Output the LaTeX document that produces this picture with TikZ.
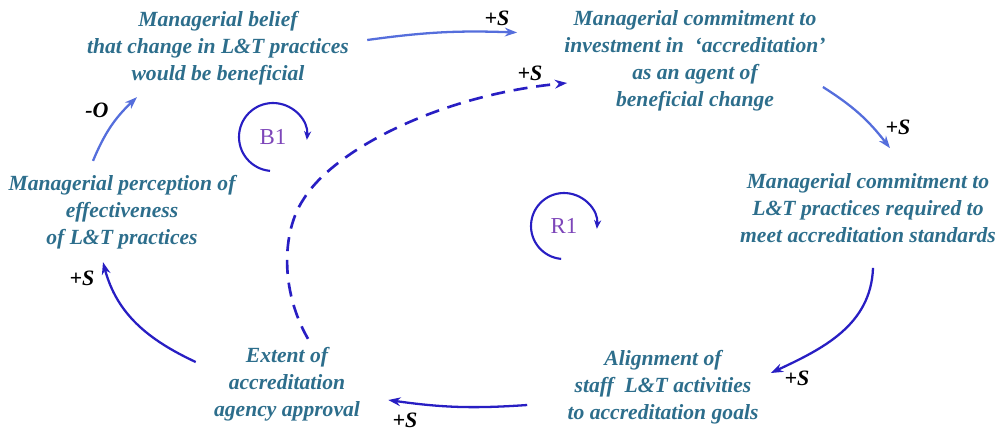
\documentclass[tikz,border=0pt]{standalone}
\usepackage{fontspec}
\setmainfont{Liberation Serif}
\usetikzlibrary{arrows.meta}
\definecolor{vartext}{RGB}{45,110,140}
\definecolor{linkdark}{RGB}{40,30,195}
\definecolor{linklight}{RGB}{85,110,220}
\definecolor{looptext}{RGB}{125,70,185}

\begin{document}
\begin{tikzpicture}[x=0.02cm, y=0.02cm,
  v/.style={align=center, inner sep=0pt, text=vartext,
    font=\fontsize{12.3}{15.3}\selectfont\bfseries\itshape},
  lk/.style={draw=linkdark, line width=1.3pt, -{Stealth[length=7pt,width=5pt]}},
  lkl/.style={lk, draw=linklight},
  pol/.style={inner sep=0pt, font=\fontsize{12.5}{14}\selectfont\bfseries\itshape},
  lp/.style={draw=linkdark, line width=1.2pt, -{Stealth[length=5pt,width=4pt]}},
  ll/.style={inner sep=0pt, text=looptext, font=\fontsize{13}{15}\selectfont}]
\useasboundingbox (0,0) rectangle (999,-430);
% variables
\node[v] (belief) at (218,-48) {Managerial belief\\that change in L\&T practices\\would be beneficial};
\node[v] (invest) at (695,-61) {Managerial commitment to\\investment in \ `accreditation'\\as an agent of\\beneficial change};
\node[v] (practice) at (868,-208) {Managerial commitment to\\L\&T practices required to\\meet accreditation standards};
\node[v] (align) at (663,-387) {Alignment of\\staff \ L\&T activities\\to accreditation goals};
\node[v] (approval) at (287,-384) {Extent of\\accreditation\\agency approval};
\node[v] (percept) at (122,-212) {Managerial perception of\\effectiveness\\of L\&T practices};
% links
\draw[lkl] ([shift={(18,8)}]belief.east) to[bend left=5] ([shift={(-47,-22)}]invest.north west);
\draw[lkl] ([shift={(-3,-26)}]invest.east) to[bend left=10] ([shift={(22,25)}]practice.north);
\draw[lk] ([shift={(5,-25)}]practice.south) to[out=-92, in=25] ([shift={(12,14)}]align.east);
\draw[lk] ([shift={(-40,-18)}]align.west) to[bend left=6] ([shift={(28,-16)}]approval.east);
\draw[lk] ([shift={(-18,22)}]approval.west) to[out=155, in=-75] ([shift={(-19,-13)}]percept.south);
\draw[lkl] ([shift={(-29,14)}]percept.north) to[bend left=12] ([shift={(-81,-12)}]belief.south);
\draw[lk, line width=1.5pt, dash pattern=on 8pt off 5pt] ([shift={(21,8)}]approval.north)
  .. controls (280,-290) and (282,-232) .. (303,-200)
  .. controls (333,-150) and (440,-95) .. ([shift={(3,-22)}]invest.west);
% polarities
\node[pol] (s1) at (497,-18) {+S};
\node[pol] (s2) at (898,-127) {+S};
\node[pol] (s3) at (797,-378) {+S};
\node[pol] (s4) at (405,-420) {+S};
\node[pol] (s5) at (82,-278) {+S};
\node[pol] (s6) at (97,-110) {-O};
\node[pol] (s7) at (530,-73) {+S};
% loops
\node[ll] (b1) at (273,-137) {B1};
\draw[lp] ([shift={(265:34)}]b1.center) arc[start angle=265, end angle=-5, radius=34];
\node[ll] (r1) at (564,-226) {R1};
\draw[lp] ([shift={(265:33)}]r1.center) arc[start angle=265, end angle=-5, radius=33];
\end{tikzpicture}
\end{document}
